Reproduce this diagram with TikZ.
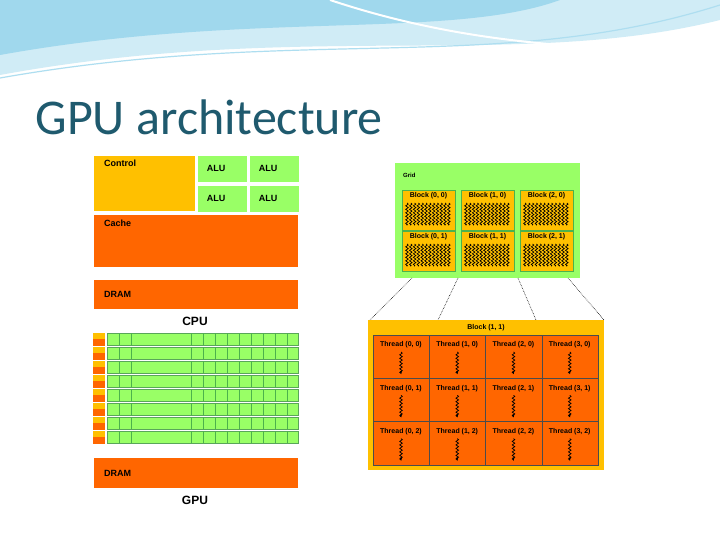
\documentclass[tikz,border=0pt]{standalone}
\usepackage{fontspec}
\setmainfont{Carlito}
\newfontfamily\lblfont{Liberation Sans}
\usetikzlibrary{decorations.pathmorphing,arrows.meta}
\definecolor{cYel}{RGB}{255,192,0}
\definecolor{cOra}{RGB}{255,102,0}
\definecolor{cGrn}{RGB}{153,255,102}
\definecolor{cTeal}{RGB}{31,90,110}
\definecolor{cSky}{RGB}{120,200,230}
\tikzset{
  box/.style={draw=white,line width=0.8pt},
  lbl/.style={font=\lblfont\bfseries\fontsize{8}{9}\selectfont,inner sep=1pt},
  big/.style={font=\lblfont\bfseries\fontsize{12}{13}\selectfont},
  squig/.style={decorate,decoration={snake,amplitude=1.3pt,segment length=3.5pt},line width=0.7pt},
}
\begin{document}
\begin{tikzpicture}[x=1pt,y=1pt,yscale=-1]
\useasboundingbox (0,0) rectangle (720,540);
\fill[white] (0,0) rectangle (720,540);

%Header waves
\fill[cSky!35] (0,0) -- (720,0) -- (720,20) .. controls (520,70) and (300,20) .. (0,75) -- cycle;
\fill[cSky!70] (0,0) -- (560,0) .. controls (450,40) and (250,10) .. (0,55) -- cycle;
\draw[cSky!60,line width=1.2pt] (0,78) .. controls (300,25) and (500,75) .. (720,5);
\draw[white,line width=2pt] (330,0) .. controls (420,30) and (500,40) .. (560,45);

% Title
\node[anchor=west,text=cTeal,font=\fontsize{50}{54}\selectfont] (title) at (32,117) {GPU architecture};

%CPU
\fill[cYel,box] (93,155) rectangle (195,211);
\node[lbl,anchor=north west,font=\lblfont\bfseries\fontsize{9}{10}\selectfont] (ctrl) at (103,159) {Control};
\foreach \i/\x in {0/197,1/249}
  \foreach \j/\y in {0/155,1/185} {
    \fill[cGrn,box] (\x,\y) rectangle +(50,27);
    \node[lbl,font=\lblfont\bfseries\fontsize{9}{10}\selectfont] (alu\i\j) at (\x+19,\y+13) {ALU};
  }
\fill[cOra,box] (93,214) rectangle (298,267);
\node[lbl,anchor=north west,font=\lblfont\bfseries\fontsize{9}{10}\selectfont] (cache) at (103,219) {Cache};
\fill[cOra,box] (93,279) rectangle (298,309);
\node[lbl,anchor=west,font=\lblfont\bfseries\fontsize{9}{10}\selectfont] (dramc) at (103,294) {DRAM};
\node[big] (cpu) at (195,321) {CPU};

%GPU
\foreach \r in {0,...,7} {
  \fill[cYel] (93,333+14*\r) rectangle +(12,6);
  \fill[cOra] (93,339+14*\r) rectangle +(12,7);
  \fill[cGrn,draw=gray!70!green] (107,333+14*\r) rectangle +(191,12);
  \foreach \c in {119,131,191,203,215,227,239,251,263,275,287}
    \draw[gray!60!green,line width=0.4pt] (\c,333+14*\r) -- +(0,12);
}
\fill[cOra,box] (93,457) rectangle (298,488);
\node[lbl,anchor=west,font=\lblfont\bfseries\fontsize{9}{10}\selectfont] (dramg) at (103,473) {DRAM};
\node[big] (gpu) at (195,500) {GPU};

%Grid
\fill[cGrn] (395,163) rectangle (580,278);
\node[lbl,anchor=west,font=\lblfont\bfseries\fontsize{6}{7}\selectfont] (grid) at (402,175) {Grid};
\foreach \i/\x in {0/402,1/461,2/520}
  \foreach \j/\y in {0/190,1/231} {
    \fill[cYel,draw=gray!60!green] (\x,\y) rectangle +(53,40);
    \node[lbl,font=\lblfont\bfseries\fontsize{7}{8}\selectfont] (blk\i\j) at (\x+26.5,\y+6) {Block (\i, \j)};
    \foreach \k in {0,...,11}
      \draw[squig,-{Latex[length=2pt]}] (\x+5+3.8*\k,\y+13) -- +(0,23);
  }

%Dotted zoom lines
\coordinate (z1) at (412,278); \coordinate (z2) at (458,278);
\coordinate (z3) at (518,278); \coordinate (z4) at (568,278);
\coordinate (w1) at (370,320); \coordinate (w2) at (438,320);
\coordinate (w3) at (536,320); \coordinate (w4) at (604,320);
\foreach \n in {1,...,4} \draw[densely dotted,line width=0.6pt] (z\n) -- (w\n);

%Block (1,1)
\fill[cYel] (368,320) rectangle (604,470);
\node[lbl,font=\lblfont\bfseries\fontsize{7}{8}\selectfont] (blkbig) at (486,328) {Block (1, 1)};
\foreach \i in {0,...,3}
  \foreach \j in {0,...,2} {
    \fill[cOra,draw=black!70,line width=0.5pt] (373+56.25*\i,335+43.3*\j) rectangle +(56.25,43.3);
    \node[lbl,font=\lblfont\bfseries\fontsize{7}{8}\selectfont] (thr\i\j) at (373+56.25*\i+28,335+43.3*\j+10) {Thread (\i, \j)};
    \draw[squig,-{Latex[length=3pt]}] (373+56.25*\i+28,335+43.3*\j+17) -- +(0,22);
  }
\end{tikzpicture}
\end{document}
